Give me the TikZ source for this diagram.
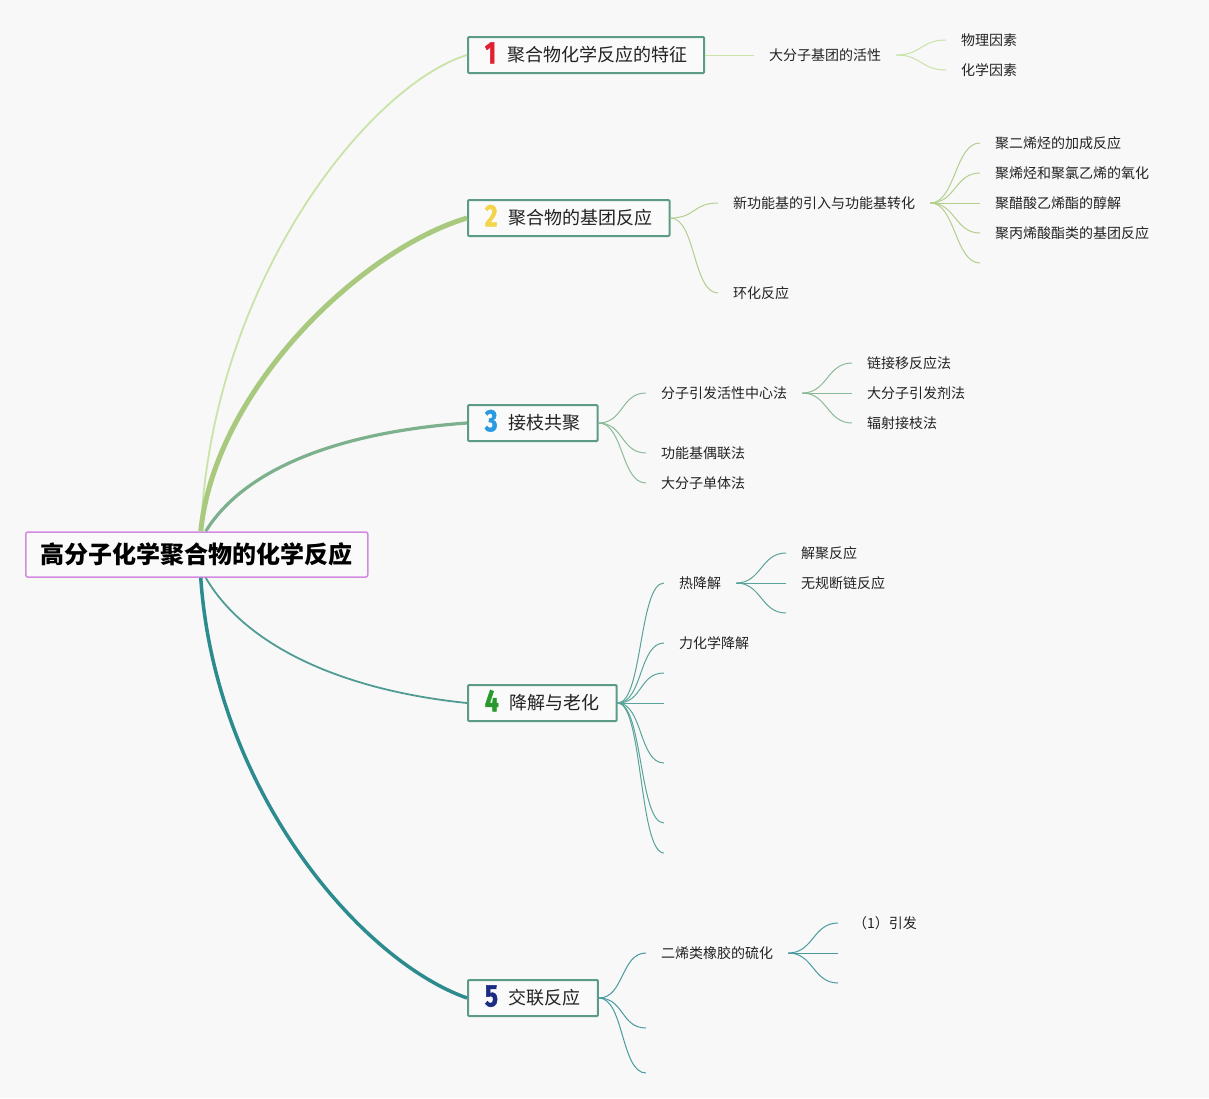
\documentclass[tikz,border=0pt]{standalone}
\usepackage{fontspec}
\setmainfont{Noto Sans CJK SC}
\newfontfamily\numfont[FakeStretch=0.78,FakeBold=1.6]{Fira Sans}
\definecolor{bgc}{HTML}{F8F8F8}
\definecolor{boxfill}{HTML}{FAFAFA}
\definecolor{boxc}{HTML}{5C9C86}
\definecolor{rootc}{HTML}{D48AE0}
\definecolor{txt}{HTML}{222222}
\definecolor{cA}{HTML}{C9E3A8}
\definecolor{cB}{HTML}{A8C97E}
\definecolor{cBs}{HTML}{B3CF8D}
\definecolor{cC}{HTML}{7DB08C}
\definecolor{cCs}{HTML}{8CBA98}
\definecolor{cD}{HTML}{4E9C93}
\definecolor{cDs}{HTML}{5AA39A}
\definecolor{cE}{HTML}{2B8B8E}
\definecolor{cEs}{HTML}{4A9BA0}
\definecolor{n1}{HTML}{E0202E}
\definecolor{n2}{HTML}{F4D44A}
\definecolor{n3}{HTML}{2A9BE0}
\definecolor{n4}{HTML}{289A2C}
\definecolor{n5}{HTML}{1B2C82}
\newcommand\topnum[2]{\smash{\raisebox{-1.5pt}{\numfont\bfseries\fontsize{31}{31}\selectfont\color{#1}#2}}\hspace{11pt}}
\tikzset{
  rootbox/.style={draw=rootc, line width=1.5pt, rounded corners=2pt, fill=boxfill, inner xsep=15pt, minimum height=45pt, anchor=west, font=\fontsize{24}{24}\selectfont\bfseries, text=black},
  topicbox/.style={draw=boxc, line width=2pt, rounded corners=1pt, fill=boxfill, inner xsep=17pt, inner ysep=0pt, minimum height=36pt, anchor=west, font=\fontsize{18}{18}\selectfont, text=txt},
  leaf/.style={anchor=west, inner xsep=15pt, inner ysep=2pt, font=\fontsize{14}{14}\selectfont, text=txt},
  sA/.style={draw=cA, line width=1pt},
  sB/.style={draw=cBs, line width=1pt},
  sC/.style={draw=cCs, line width=1pt},
  sD/.style={draw=cDs, line width=1pt},
  sE/.style={draw=cEs, line width=1pt},
}
\begin{document}
\begin{tikzpicture}[x=1pt,y=-1pt]
\fill[bgc] (0,0) rectangle (1209,1098);
\useasboundingbox (0,0) rectangle (1209,1098);

% root
\node[rootbox] (root) at (25,554.5) {高分子化学聚合物的化学反应};

% topics
\node[topicbox] (b1) at (467,55) {\topnum{n1}{1}聚合物化学反应的特征};
\node[topicbox] (b2) at (467,218) {\topnum{n2}{2}聚合物的基团反应};
\node[topicbox] (b3) at (467,423) {\topnum{n3}{3}接枝共聚};
\node[topicbox] (b4) at (467,703) {\topnum{n4}{4}降解与老化};
\node[topicbox] (b5) at (467,998) {\topnum{n5}{5}交联反应};

% main branches
\draw[cA, line width=1.8pt] ([xshift=4pt]root.north) .. controls (212,280) and (370,85) .. (b1.west);
\draw[cB, line width=5pt] ([xshift=4pt]root.north) .. controls (215,390) and (360,250) .. (b2.west);
\draw[cC, line width=3.2pt] ([xshift=9pt]root.north) .. controls (245,468) and (340,432) .. (b3.west);
\draw[cD, line width=1.8pt] ([xshift=9pt]root.south) .. controls (245,645) and (340,690) .. (b4.west);
\draw[cE, line width=3.5pt] ([xshift=4pt]root.south) .. controls (215,790) and (360,960) .. (b5.west);

% branch 1
\node[leaf] (b1a) at (754,55) {大分子基团的活性};
\node[leaf] (b1a1) at (946,40) {物理因素};
\node[leaf] (b1a2) at (946,70) {化学因素};
\draw[sA] (b1.east) -- (b1a.west);
\foreach \t in {b1a1,b1a2} \draw[sA] (b1a.east) .. controls +(25,0) and +(-25,0) .. (\t.west);

% branch 2
\node[leaf] (b2a) at (718,203) {新功能基的引入与功能基转化};
\node[leaf] (b2b) at (718,293) {环化反应};
\node[leaf] (b2a1) at (980,143) {聚二烯烃的加成反应};
\node[leaf] (b2a2) at (980,173) {聚烯烃和聚氯乙烯的氧化};
\node[leaf] (b2a3) at (980,203) {聚醋酸乙烯酯的醇解};
\node[leaf] (b2a4) at (980,233) {聚丙烯酸酯类的基团反应};
\coordinate (b2a5) at (980,263);
\foreach \t in {b2a,b2b} \draw[sB] (b2.east) .. controls +(25,0) and +(-25,0) .. (\t.west);
\foreach \t in {b2a1.west,b2a2.west,b2a3.west,b2a4.west,b2a5} \draw[sB] (b2a.east) .. controls +(25,0) and +(-25,0) .. (\t);

% branch 3
\node[leaf] (b3a) at (646,393) {分子引发活性中心法};
\node[leaf] (b3b) at (646,453) {功能基偶联法};
\node[leaf] (b3c) at (646,483) {大分子单体法};
\node[leaf] (b3a1) at (852,363) {链接移反应法};
\node[leaf] (b3a2) at (852,393) {大分子引发剂法};
\node[leaf] (b3a3) at (852,423) {辐射接枝法};
\foreach \t in {b3a,b3b,b3c} \draw[sC] (b3.east) .. controls +(25,0) and +(-25,0) .. (\t.west);
\foreach \t in {b3a1,b3a2,b3a3} \draw[sC] (b3a.east) .. controls +(25,0) and +(-25,0) .. (\t.west);

% branch 4
\node[leaf] (b4a) at (664,583) {热降解};
\node[leaf] (b4b) at (664,643) {力化学降解};
\coordinate (b4c) at (664,673);
\coordinate (b4d) at (664,703);
\coordinate (b4e) at (664,763);
\coordinate (b4f) at (664,823);
\coordinate (b4g) at (664,853);
\node[leaf] (b4a1) at (786,553) {解聚反应};
\node[leaf] (b4a2) at (786,583) {无规断链反应};
\coordinate (b4a3) at (786,613);
\foreach \t in {b4a.west,b4b.west,b4c,b4d,b4e,b4f,b4g} \draw[sD] (b4.east) .. controls +(25,0) and +(-25,0) .. (\t);
\foreach \t in {b4a1.west,b4a2.west,b4a3} \draw[sD] (b4a.east) .. controls +(25,0) and +(-25,0) .. (\t);

% branch 5
\node[leaf] (b5a) at (646,953) {二烯类橡胶的硫化};
\coordinate (b5b) at (646,1028);
\coordinate (b5c) at (646,1073);
\node[leaf] (b5a1) at (838,923) {（1）引发};
\coordinate (b5a2) at (838,953);
\coordinate (b5a3) at (838,983);
\foreach \t in {b5a.west,b5b,b5c} \draw[sE] (b5.east) .. controls +(25,0) and +(-25,0) .. (\t);
\foreach \t in {b5a1.west,b5a2,b5a3} \draw[sE] (b5a.east) .. controls +(25,0) and +(-25,0) .. (\t);
\end{tikzpicture}
\end{document}
